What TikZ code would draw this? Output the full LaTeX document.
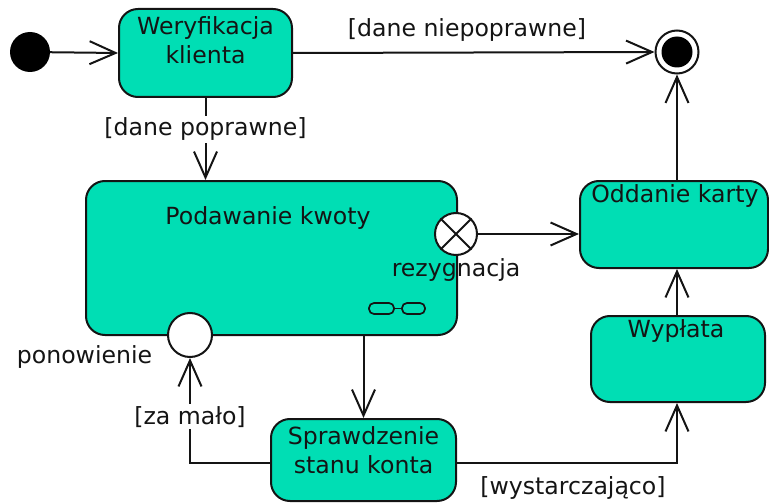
\documentclass[tikz,border=0pt]{standalone}
\usepackage{fontspec}
\setmainfont{DejaVu Sans}
\usetikzlibrary{arrows.meta}
\definecolor{actfill}{RGB}{0,222,180}
\definecolor{ink}{RGB}{20,20,20}
\tikzset{
  act/.style={draw=ink, fill=actfill, line width=2pt, rounded corners=19pt, inner sep=0pt},
  txt/.style={text=ink, inner sep=0pt, align=center, font=\fontsize{23.6}{29}\selectfont},
  lbl/.style={txt, fill=white, inner sep=2pt},
  flow/.style={draw=ink, line width=2pt, -{Straight Barb[length=26pt,width=23pt,line width=2pt]}},
  pin/.style={circle, draw=ink, fill=white, line width=2pt, minimum size=43pt, inner sep=0pt},
}
\begin{document}
\begin{tikzpicture}[x=1pt,y=-1pt]
\useasboundingbox (0,0) rectangle (769,503);

% initial and final
\node[circle, fill=black, minimum size=40pt, inner sep=0pt] (ini) at (30,52) {};
\node[circle, draw=ink, fill=white, line width=2pt, minimum size=43pt, inner sep=0pt] (fin) at (677,52) {};
\node[circle, fill=black, minimum size=31pt, inner sep=0pt] (finc) at (677,52) {};

% activities
\node[act, minimum width=173pt, minimum height=88pt] (wer) at (205.5,53) {};
\node[txt] (wert) at (205.5,40) {Weryfikacja\\klienta};

\node[act, minimum width=371pt, minimum height=154pt] (pod) at (271.5,258) {};
\node[txt] (podt) at (268,218) {Podawanie kwoty};

\node[act, minimum width=188pt, minimum height=87pt] (odd) at (674,224.5) {};
\node[txt] (oddt) at (675,196) {Oddanie karty};

\node[act, minimum width=174pt, minimum height=86pt] (wyp) at (678,359) {};
\node[txt] (wypt) at (676,331) {Wypłata};

\node[act, minimum width=185pt, minimum height=82pt] (spr) at (363.5,460) {};
\node[txt] (sprt) at (363.5,450) {Sprawdzenie\\stanu konta};

% rake icon
\draw[draw=ink, line width=1.7pt, rounded corners=5pt] (369,303) rectangle (394,314);
\draw[draw=ink, line width=1.7pt, rounded corners=5pt] (402,303) rectangle (425,314);
\draw[draw=ink, line width=1.7pt] (394,308.5) -- (402,308.5);

% exit point
\node[pin, minimum size=42pt] (ex) at (456,234) {};
\draw[draw=ink, line width=2pt] (ex.north east) -- (ex.south west) (ex.north west) -- (ex.south east);
\node[txt] (exl) at (456,270) {rezygnacja};

% entry point
\node[pin, minimum size=44pt] (en) at (190,335) {};
\node[txt] (enl) at (84.5,357) {ponowienie};

% flows
\draw[flow] (ini) -- (wer.west);
\draw[flow] (wer.east) -- (fin.west);
\node[txt] (l1) at (467,30) {[dane niepoprawne]};
\draw[flow] (wer.south) -- node[lbl, pos=0.38] (l2) {[dane poprawne]} (wer.south |- pod.north);
\draw[flow] (ex.east) -- (odd.west |- ex.east);
\draw[flow] (spr.north |- pod.south) -- (spr.north);
\draw[flow] ([yshift=-3pt]spr.west) -| node[lbl, pos=0.72] (l3) {[za mało]} (en.south);
\draw[flow] ([yshift=-3pt]spr.east) -| (wyp.south -| fin.south);
\node[txt] (l4) at (573,488) {[wystarczająco]};
\draw[flow] (wyp.north -| fin.south) -- (odd.south -| fin.south);
\draw[flow] (odd.north -| fin.south) -- (fin.south);
\end{tikzpicture}
\end{document}
